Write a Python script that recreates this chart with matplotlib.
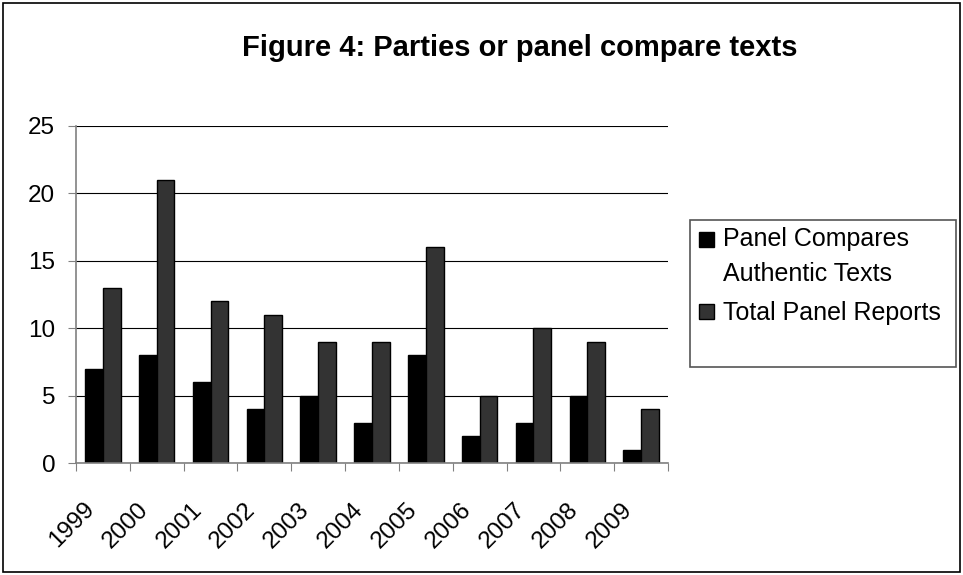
import matplotlib.pyplot as plt
import matplotlib.patches as mpatches
import matplotlib.transforms as mtransforms
from matplotlib.legend_handler import HandlerPatch
import numpy as np

plt.rcParams['font.family'] = ['Liberation Sans', 'DejaVu Sans']

years = ['1999', '2000', '2001', '2002', '2003', '2004', '2005', '2006', '2007', '2008', '2009']
panel_compares = [7, 8, 6, 4, 5, 3, 8, 2, 3, 5, 1]
total_reports = [13, 21, 12, 11, 9, 9, 16, 5, 10, 9, 4]
series_names = ['Panel Compares\nAuthentic Texts', 'Total Panel Reports']

W, H = 963, 575
fig = plt.figure(figsize=(W / 100, H / 100), dpi=100)

# outer chart border
fig.patches.append(mpatches.Rectangle((3 / W, 3 / H), 957 / W, 569 / H, transform=fig.transFigure,
                                      fill=False, ec='black', lw=1.2))

ax = fig.add_axes([76 / W, (H - 463) / H, 592 / W, 337 / H])
x = np.arange(len(years))
bw = 0.33
b1 = ax.bar(x - bw / 2, panel_compares, bw, color='black', ec='black', lw=1)
b2 = ax.bar(x + bw / 2, total_reports, bw, color='#333333', ec='black', lw=1)

ax.set_xlim(-0.5, len(years) - 0.5)
ax.set_ylim(0, 25)
ax.set_yticks(range(0, 26, 5))
ax.yaxis.grid(True, color='black', lw=0.8)
ax.set_axisbelow(True)
ax.set_xticks(np.arange(len(years) + 1) - 0.5, minor=False)
ax.set_xticklabels([])
ax.set_xticks(x, minor=True)
ax.set_xticklabels(years, minor=True, rotation=45, ha='right', va='center', rotation_mode='anchor', fontsize=17.5)
ax.tick_params(axis='x', which='minor', length=0, pad=31)
ax.tick_params(axis='x', which='major', length=6, direction='out', color='#808080')
ax.tick_params(axis='y', length=6, direction='out', color='#808080', labelsize=17.5, pad=9)
shift = mtransforms.ScaledTranslation(-12 / 100, 0, fig.dpi_scale_trans)
for lbl in ax.xaxis.get_minorticklabels():
    lbl.set_transform(lbl.get_transform() + shift)
for s in ['top', 'right']:
    ax.spines[s].set_visible(False)
for s in ['left', 'bottom']:
    ax.spines[s].set_color('#808080')
    ax.spines[s].set_linewidth(1.2)

fig.text(520 / W, 1 - 48 / H, 'Figure 4: Parties or panel compare texts', ha='center', va='center',
         fontsize=21, fontweight='bold')


# legend square sits beside the first line of a two-line label
def first_line_square(legend, orig_handle, xdescent, ydescent, width, height, fontsize):
    return mpatches.Rectangle((-xdescent, -ydescent + 0.7 * fontsize), width, height)


h1, h2 = b1.patches[0], b2.patches[0]
fig.patches.append(mpatches.Rectangle((690 / W, (H - 367) / H), 266 / W, 147 / H, transform=fig.transFigure,
                                      fill=False, ec='#555555', lw=1.2))
leg = fig.legend([h1, h2], series_names, loc='upper left', bbox_to_anchor=(699 / W, (H - 227) / H),
                 frameon=False, fontsize=18, handlelength=0.6, handleheight=0.55, handletextpad=0.36,
                 labelspacing=0.6, borderaxespad=0, borderpad=0,
                 handler_map={h1: HandlerPatch(patch_func=first_line_square)})
for t in leg.get_texts():
    t.set_linespacing(1.6)

fig.savefig('out.png', dpi=100)
